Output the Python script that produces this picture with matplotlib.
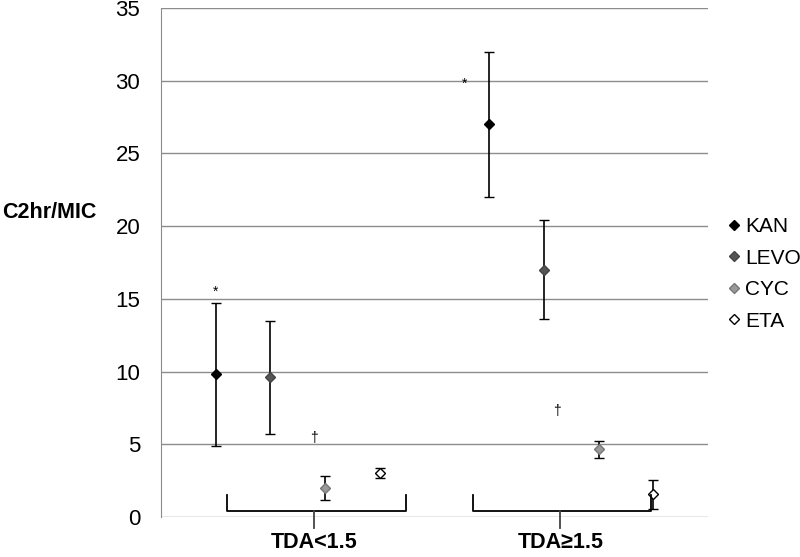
import matplotlib.pyplot as plt
from matplotlib.lines import Line2D
import numpy as np

plt.rcParams['font.family'] = ['Liberation Sans', 'DejaVu Sans']

categories = ['TDA<1.5', 'TDA\u22651.5']
series = ['KAN', 'LEVO', 'CYC', 'ETA']
values = {
    'KAN':  [9.8, 27.0],
    'LEVO': [9.6, 17.0],
    'CYC':  [2.0, 4.65],
    'ETA':  [3.0, 1.55],
}
errors = {
    'KAN':  [4.9, 5.0],
    'LEVO': [3.9, 3.4],
    'CYC':  [0.8, 0.6],
    'ETA':  [0.35, 1.0],
}
face = {'KAN': 'black', 'LEVO': '#555555', 'CYC': '#999999', 'ETA': 'white'}
edge = {'KAN': 'black', 'LEVO': '#444444', 'CYC': '#777777', 'ETA': 'black'}

fig = plt.figure(figsize=(8, 5.57), dpi=100)
ax = fig.add_axes([161/800, 40/557, 547/800, 509/557])

x = np.arange(len(categories))
handles = []
for i, s in enumerate(series):
    xs = x + (i - 1.5) * 0.2
    ax.errorbar(xs, values[s], yerr=errors[s], fmt='D', ms=5,
                mfc=face[s], mec=edge[s], mew=1, ecolor='black',
                elinewidth=1.2, capsize=3.5, capthick=1.2, zorder=3)
    handles.append(Line2D([], [], ls='none', marker='D', ms=5, mfc=face[s],
                          mec=edge[s], mew=1, label=s))

ax.set_xlim(-0.5, 1.5)
ax.set_ylim(0, 35)
ax.set_yticks(range(0, 36, 5))
ax.yaxis.grid(True, color='#8c8c8c', lw=1)
ax.set_axisbelow(True)
for sp in ['top', 'right', 'bottom']:
    ax.spines[sp].set_visible(False)
ax.spines['left'].set_color('#8c8c8c')
ax.tick_params(axis='y', length=0, pad=15, labelsize=16)

# category labels sit under the brackets
ax.set_xticks([0.06, 0.96])
ax.set_xticklabels(categories, fontsize=15.5, fontweight='bold')
ax.tick_params(axis='x', length=0, pad=11)

fig.text(0.003, 1 - 213/557, 'C2hr/MIC', fontsize=15.5, fontweight='bold',
         ha='left', va='center')

# brackets
for x0, x1, xc in [(-0.259, 0.396, 0.06), (0.641, 1.292, 0.959)]:
    ax.plot([x0, x0, x1, x1], [1.5, 0.41, 0.41, 1.5], color='black', lw=1.3,
            clip_on=False, zorder=4)
    ax.plot([xc, xc], [0.41, -0.76], color='#444444', lw=1.3, clip_on=False, zorder=4)

# significance marks
ax.text(-0.30, 15.5, '*', fontsize=10, ha='center', va='center')
ax.text(0.608, 29.8, '*', fontsize=10, ha='center', va='center')
ax.text(0.06, 5.4, '\u2020', fontsize=10, ha='center', va='center')
ax.text(0.948, 7.3, '\u2020', fontsize=10, ha='center', va='center')

fig.legend(handles=handles, loc='center left', bbox_to_anchor=(724/800, 1 - 274/557),
           frameon=False, fontsize=15, handletextpad=0.0, handlelength=1.0,
           labelspacing=0.6, borderpad=0, borderaxespad=0)

plt.savefig('out.png')
